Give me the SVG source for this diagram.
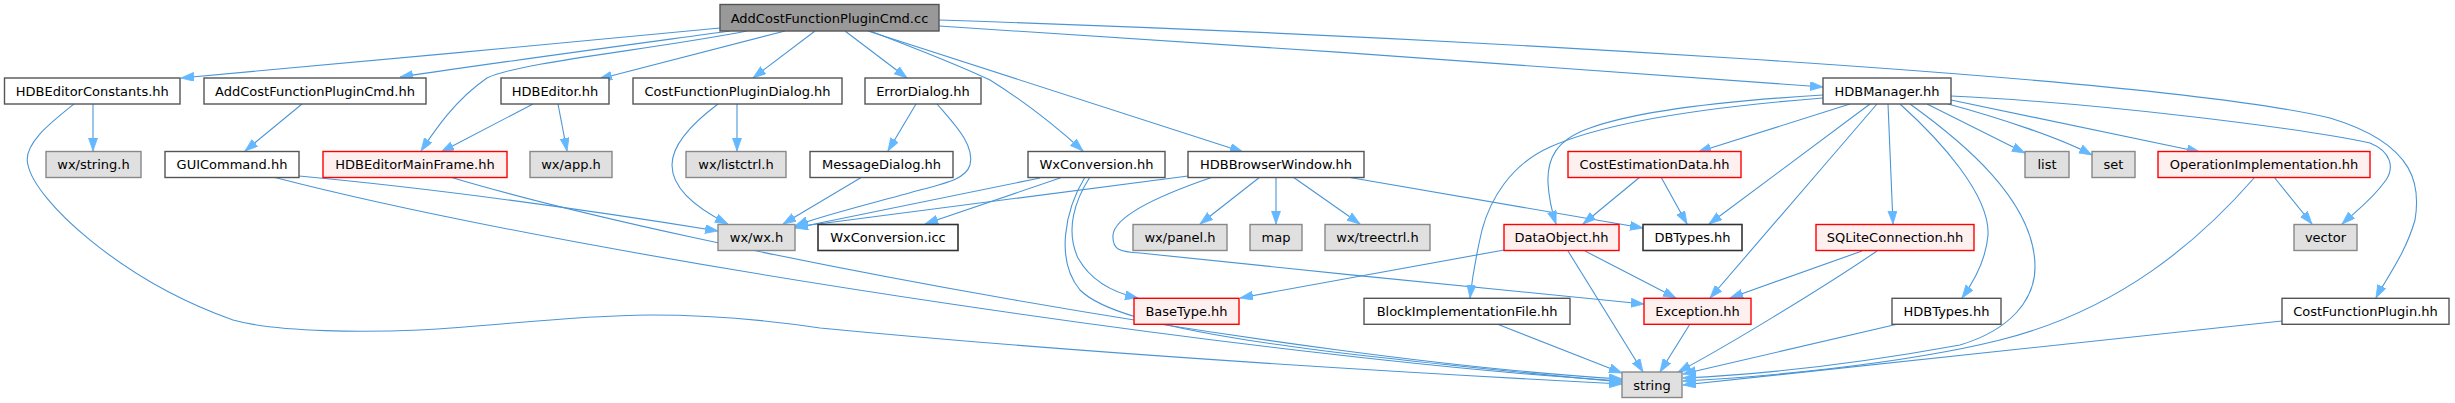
<svg xmlns="http://www.w3.org/2000/svg" width="2455" height="403" viewBox="0 0 2455 403">
<style>
text{font-family:"DejaVu Sans","Liberation Sans",sans-serif;font-size:13px;fill:#000;text-anchor:middle}
.n rect{fill:#ffffff;stroke:#555555;stroke-width:1.4}
.root rect{fill:#999999;stroke:#555555;stroke-width:1.4}
.g rect{fill:#e0e0e0;stroke:#888888;stroke-width:1.4}
.r rect{fill:#fff0f0;stroke:#ff0000;stroke-width:1.4}
.b rect{fill:#ffffff;stroke:#333333;stroke-width:1.6}
#edges path{fill:none;stroke:#4a95d6;stroke-width:1.1;marker-end:url(#ah)}
</style>
<defs>
<marker id="ah" markerUnits="userSpaceOnUse" markerWidth="14" markerHeight="10" refX="13" refY="4.5" orient="auto">
<path d="M0,0 L13,4.5 L0,9 z" fill="#63b8ff" stroke="#63b8ff" stroke-width="0.8"/>
</marker>
</defs>
<rect width="2455" height="403" fill="#ffffff"/>
<g id="edges">
<path d="M720,28 C560,43 340,64 181,78"/>
<path d="M730,31 C620,46 500,62 400,77"/>
<path d="M747,31 C650,50 520,62 487,78 C455,100 435,130 421,151"/>
<path d="M785,31 L599,79"/>
<path d="M815,31 L753,78"/>
<path d="M845,31 L907,78"/>
<path d="M870,31 C920,50 960,66 990,80 C1030,105 1060,130 1083,151"/>
<path d="M868,31 L1243,152"/>
<path d="M939,26 C1200,42 1600,70 1823,87"/>
<path d="M939,20 C1400,35 2150,75 2330,118 C2420,145 2420,190 2415,220 C2405,255 2385,280 2376,298"/>
<path d="M93,104 L93,151"/>
<path d="M74,104 C50,123 22,145 28,165 C35,200 120,280 233,320 C280,333 370,332 420,330 C500,326 560,316 650,315 C720,315 780,322 820,328 C1100,355 1450,375 1622,384"/>
<path d="M302,104 L245,151"/>
<path d="M299,176 C450,190 600,212 718,231"/>
<path d="M273,177 C600,262 1300,362 1622,381"/>
<path d="M450,177 C700,252 1300,360 1622,379"/>
<path d="M533,104 L441,152"/>
<path d="M558,104 L567,151"/>
<path d="M737,104 L737,151"/>
<path d="M718,104 C690,125 672,145 672,165 C672,190 700,210 728,224"/>
<path d="M916,104 L888,151"/>
<path d="M937,104 C955,125 975,145 970,165 C966,178 950,182 920,190 C870,204 820,216 795,226"/>
<path d="M862,177 L783,224"/>
<path d="M1040,178 L795,228"/>
<path d="M1188,176 L795,227"/>
<path d="M1063,177 L925,224"/>
<path d="M1090,177 C1075,200 1065,230 1078,258 C1092,283 1115,293 1138,298"/>
<path d="M1085,177 C1065,210 1055,260 1080,290 C1120,330 1300,352 1622,382"/>
<path d="M1260,177 L1200,224"/>
<path d="M1276,177 L1276,224"/>
<path d="M1293,177 L1360,224"/>
<path d="M1347,177 L1643,228"/>
<path d="M1213,177 C1160,195 1115,215 1113,235 C1112,250 1120,252 1140,253 C1300,270 1500,290 1644,304"/>
<path d="M1850,104 L1698,152"/>
<path d="M1870,104 L1709,224"/>
<path d="M1877,104 C1820,170 1752,250 1710,298"/>
<path d="M1888,104 L1893,224"/>
<path d="M1900,104 C1940,140 1990,195 1988,235 C1986,260 1975,280 1962,298"/>
<path d="M1910,104 C1960,140 2035,200 2035,267 C2035,300 2010,330 1960,345 C1850,365 1750,375 1683,378"/>
<path d="M1927,104 L2025,153"/>
<path d="M1948,104 C2000,118 2060,138 2092,155"/>
<path d="M1951,100 L2200,152"/>
<path d="M1951,96 C2100,103 2300,128 2370,143 C2392,152 2394,168 2386,180 C2372,200 2355,212 2342,224"/>
<path d="M1823,95 C1740,100 1640,110 1590,128 C1555,140 1547,160 1548,183 C1549,200 1552,212 1556,224"/>
<path d="M1823,98 C1720,106 1610,120 1550,147 C1510,165 1490,200 1482,230 C1475,260 1472,280 1470,298"/>
<path d="M1640,177 L1583,224"/>
<path d="M1661,177 L1687,224"/>
<path d="M1504,250 L1240,298"/>
<path d="M1585,251 L1676,298"/>
<path d="M1568,251 L1643,372"/>
<path d="M1862,251 L1730,298"/>
<path d="M1877,251 C1820,290 1720,350 1678,372"/>
<path d="M1690,324 L1660,372"/>
<path d="M1898,324 L1683,374"/>
<path d="M1497,324 L1622,373"/>
<path d="M2274,177 L2312,224"/>
<path d="M2255,177 C2200,240 2120,310 2000,340 C1900,365 1750,378 1683,381"/>
<path d="M2282,321 L1683,385"/>
</g>
<g id="n0" class="root"><rect x="720" y="4.5" width="219" height="26.5"/><text x="829.5" y="22.5">AddCostFunctionPluginCmd.cc</text></g>
<g id="n1" class="n"><rect x="4.5" y="78" width="175.5" height="26"/><text x="92.3" y="95.6">HDBEditorConstants.hh</text></g>
<g id="n2" class="n"><rect x="204" y="78" width="222" height="26"/><text x="315" y="95.6">AddCostFunctionPluginCmd.hh</text></g>
<g id="n3" class="n"><rect x="501" y="78" width="108" height="26"/><text x="555" y="95.6">HDBEditor.hh</text></g>
<g id="n4" class="n"><rect x="633" y="78" width="209" height="26"/><text x="737.5" y="95.6">CostFunctionPluginDialog.hh</text></g>
<g id="n5" class="n"><rect x="865" y="78" width="116" height="26"/><text x="923" y="95.6">ErrorDialog.hh</text></g>
<g id="n6" class="n"><rect x="1823" y="78" width="128" height="26"/><text x="1887" y="95.6">HDBManager.hh</text></g>
<g id="n7" class="g"><rect x="46" y="151.5" width="95" height="26"/><text x="93.5" y="169.1">wx/string.h</text></g>
<g id="n8" class="n"><rect x="165" y="151.5" width="134" height="26"/><text x="232" y="169.1">GUICommand.hh</text></g>
<g id="n9" class="r"><rect x="323" y="151.5" width="184" height="26"/><text x="415" y="169.1">HDBEditorMainFrame.hh</text></g>
<g id="n10" class="g"><rect x="530" y="151.5" width="82" height="26"/><text x="571" y="169.1">wx/app.h</text></g>
<g id="n11" class="g"><rect x="686" y="151.5" width="100" height="26"/><text x="736" y="169.1">wx/listctrl.h</text></g>
<g id="n12" class="n"><rect x="810" y="151.5" width="143" height="26"/><text x="881.5" y="169.1">MessageDialog.hh</text></g>
<g id="n13" class="n"><rect x="1028" y="151.5" width="137" height="26"/><text x="1096.5" y="169.1">WxConversion.hh</text></g>
<g id="n14" class="n"><rect x="1188" y="151.5" width="176" height="26"/><text x="1276" y="169.1">HDBBrowserWindow.hh</text></g>
<g id="n15" class="r"><rect x="1568" y="151.5" width="173" height="26"/><text x="1654.5" y="169.1">CostEstimationData.hh</text></g>
<g id="n16" class="g"><rect x="2025" y="151.5" width="44" height="26"/><text x="2047" y="169.1">list</text></g>
<g id="n17" class="g"><rect x="2092" y="151.5" width="43" height="26"/><text x="2113.5" y="169.1">set</text></g>
<g id="n18" class="r"><rect x="2158" y="151.5" width="212" height="26"/><text x="2264" y="169.1">OperationImplementation.hh</text></g>
<g id="n19" class="g"><rect x="718" y="224.5" width="77" height="26"/><text x="756.5" y="242.1">wx/wx.h</text></g>
<g id="n20" class="b"><rect x="818" y="224.5" width="140" height="26"/><text x="888" y="242.1">WxConversion.icc</text></g>
<g id="n21" class="g"><rect x="1133" y="224.5" width="94" height="26"/><text x="1180" y="242.1">wx/panel.h</text></g>
<g id="n22" class="g"><rect x="1250" y="224.5" width="52" height="26"/><text x="1276" y="242.1">map</text></g>
<g id="n23" class="g"><rect x="1325" y="224.5" width="105" height="26"/><text x="1377.5" y="242.1">wx/treectrl.h</text></g>
<g id="n24" class="r"><rect x="1504" y="224.5" width="115" height="26"/><text x="1561.5" y="242.1">DataObject.hh</text></g>
<g id="n25" class="b"><rect x="1643" y="224.5" width="99" height="26"/><text x="1692.5" y="242.1">DBTypes.hh</text></g>
<g id="n26" class="r"><rect x="1816" y="224.5" width="158" height="26"/><text x="1895" y="242.1">SQLiteConnection.hh</text></g>
<g id="n27" class="g"><rect x="2294" y="224.5" width="63" height="26"/><text x="2325.5" y="242.1">vector</text></g>
<g id="n28" class="r"><rect x="1134" y="298.3" width="105" height="26"/><text x="1186.5" y="315.9">BaseType.hh</text></g>
<g id="n29" class="n"><rect x="1364" y="298.3" width="206" height="26"/><text x="1467" y="315.9">BlockImplementationFile.hh</text></g>
<g id="n30" class="r"><rect x="1644" y="298.3" width="107" height="26"/><text x="1697.5" y="315.9">Exception.hh</text></g>
<g id="n31" class="n"><rect x="1892" y="298.3" width="109" height="26"/><text x="1946.5" y="315.9">HDBTypes.hh</text></g>
<g id="n32" class="n"><rect x="2282" y="298.3" width="167" height="26"/><text x="2365.5" y="315.9">CostFunctionPlugin.hh</text></g>
<g id="n33" class="g"><rect x="1622" y="372" width="60" height="25.5"/><text x="1652" y="389.5">string</text></g>
</svg>
